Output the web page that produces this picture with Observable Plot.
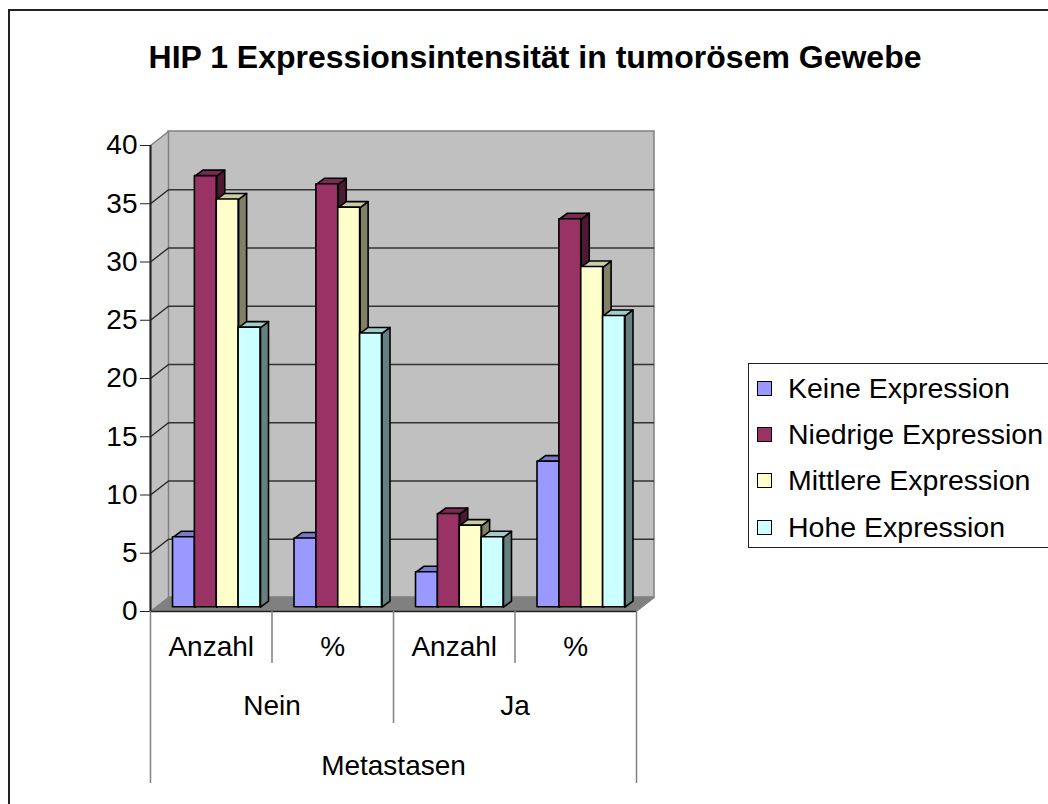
<!DOCTYPE html>
<html>
<head>
<meta charset="utf-8">
<script src="https://cdn.jsdelivr.net/npm/d3@7"></script>
<script src="https://cdn.jsdelivr.net/npm/@observablehq/plot@0.6"></script>
<style>
  html, body { margin: 0; padding: 0; background: #fff; }
  #wrap { position: relative; width: 1048px; height: 804px; overflow: hidden; font-family: "Liberation Sans", Arial, sans-serif; }
  #border { position: absolute; left: 8px; top: 9px; width: 1100px; height: 900px; border: 2px solid #222; box-sizing: border-box; }
  #title { position: absolute; left: 0; top: 39px; width: 1070px; text-align: center; font-weight: bold; font-size: 32px; line-height: 36px; color: #000; }
  #legend { position: absolute; left: 748px; top: 363px; width: 330px; height: 185px; border: 1px solid #222; background: #fff; box-sizing: border-box; }
  .item { position: absolute; left: 0; height: 32px; font-size: 28.5px; line-height: 32px; white-space: nowrap; color: #000; }
  .sw { position: absolute; left: 8px; top: 9px; width: 13px; height: 13px; border: 1.5px solid #000; }
  .lab { position: absolute; left: 39px; top: 0; }
  #chart { position: absolute; left: 0; top: 0; }
</style>
</head>
<body>
<div id="wrap">
  <div id="border"></div>
  <div id="chart"></div>
  <div id="title"></div>
  <div id="legend"></div>
</div>
<script>
// ---- Data ----
const title = "HIP 1 Expressionsintensität in tumorösem Gewebe";
const series = ["Keine Expression", "Niedrige Expression", "Mittlere Expression", "Hohe Expression"];
const subCategories = ["Anzahl", "%", "Anzahl", "%"];
const groupLabels = ["Nein", "Ja"];
const outerLabel = "Metastasen";
const keine    = [6, 5.9, 3, 12.5];
const niedrige = [37, 36.3, 8, 33.3];
const mittlere = [35, 34.3, 7, 29.2];
const hohe     = [24, 23.5, 6, 25.0];
const yTicks = [0, 5, 10, 15, 20, 25, 30, 35, 40];

// ---- Styles ----
const frontColors = ["#9999ff", "#993366", "#ffffcc", "#ccffff"];
const topColors   = ["#7a7acc", "#7a2952", "#cccca3", "#a3cccc"];
const sideColors  = ["#5c5c99", "#4d1a33", "#808066", "#668080"];

const values = [keine, niedrige, mittlere, hohe];

// layout (pixels -> data units)
const W = 1048, H = 804;
const mL = 150, mR = 412, mT = 145, mB = 193;
const xDomain = [0, 4], yDomain = [0, 40];
const PX = (xDomain[1] - xDomain[0]) / (W - mL - mR);
const PY = (yDomain[1] - yDomain[0]) / (H - mT - mB);
const wallDX = 18 * PX, wallDY = 14 * PY;   // depth of walls
const barDX = 8 * PX, barDY = 6 * PY;        // depth of bars
const gap = 0.14, bw = 0.18;

// bars table
const bars = [];
subCategories.forEach((c, g) => {
  series.forEach((s, i) => {
    const x1 = g + gap + i * bw;
    bars.push({id: g + "-" + i, g, i, x1, x2: x1 + bw, v: values[i][g],
      front: frontColors[i], top: topColors[i], side: sideColors[i]});
  });
});
const sidePts = bars.flatMap(b => [
  {id: b.id, c: b.side, x: b.x2, y: 0},
  {id: b.id, c: b.side, x: b.x2, y: b.v},
  {id: b.id, c: b.side, x: b.x2 + barDX, y: b.v + barDY},
  {id: b.id, c: b.side, x: b.x2 + barDX, y: barDY},
  {id: b.id, c: b.side, x: b.x2, y: 0}
]);
const topPts = bars.flatMap(b => [
  {id: b.id, c: b.top, x: b.x1, y: b.v},
  {id: b.id, c: b.top, x: b.x2, y: b.v},
  {id: b.id, c: b.top, x: b.x2 + barDX, y: b.v + barDY},
  {id: b.id, c: b.top, x: b.x1 + barDX, y: b.v + barDY},
  {id: b.id, c: b.top, x: b.x1, y: b.v}
]);

const leftWall = [
  {x: 0, y: 0}, {x: 0, y: 40}, {x: wallDX, y: 40 + wallDY}, {x: wallDX, y: wallDY}, {x: 0, y: 0}
];
const floor = [
  {x: 0, y: 0}, {x: 4, y: 0}, {x: 4 + wallDX, y: wallDY}, {x: wallDX, y: wallDY}, {x: 0, y: 0}
];
const gridVals = yTicks.filter(t => t > 0 && t < 40);
const sepLen = [172, 52, 112, 52, 172]; // px lengths of separators below axis

const bdx = 5.5, bdy = -4.3; // bar plane offset

const plot = Plot.plot({
  width: W, height: H,
  marginLeft: mL, marginRight: mR, marginTop: mT, marginBottom: mB,
  x: {domain: xDomain, axis: null},
  y: {domain: yDomain, axis: null},
  color: {type: "identity"},
  style: {fontFamily: "'Liberation Sans', Arial, sans-serif", fontSize: "28px", background: "transparent", overflow: "visible"},
  marks: [
    // back wall
    Plot.rect([0], {x1: 0, x2: 4, y1: 0, y2: 40, dx: 18, dy: -14, fill: "#c0c0c0", stroke: "#808080", strokeWidth: 1.5}),
    // left wall
    Plot.line(leftWall, {x: "x", y: "y", fill: "#c0c0c0", stroke: "#808080", strokeWidth: 1.5}),
    // floor
    Plot.line(floor, {x: "x", y: "y", fill: "#808080", stroke: "#808080", strokeWidth: 1}),
    // back gridlines
    Plot.ruleY(gridVals, {x1: 0, x2: 4, dx: 18, dy: -14, stroke: "#333", strokeWidth: 1.5}),
    // left wall diagonals
    Plot.link(gridVals, {x1: 0, y1: d => d, x2: wallDX, y2: d => d + wallDY, stroke: "#222", strokeWidth: 1.3}),
    // bars: sides, tops, fronts
    Plot.line(sidePts, {x: "x", y: "y", z: "id", fill: "c", stroke: "#000", strokeWidth: 1.6, strokeLinejoin: "round", dx: bdx, dy: bdy}),
    Plot.line(topPts, {x: "x", y: "y", z: "id", fill: "c", stroke: "#000", strokeWidth: 1.6, strokeLinejoin: "round", dx: bdx, dy: bdy}),
    Plot.rect(bars, {x1: "x1", x2: "x2", y1: 0, y2: "v", fill: "front", stroke: "#000", strokeWidth: 1.6, strokeLinejoin: "round", dx: bdx, dy: bdy}),
    // axes lines
    Plot.ruleX([0], {y1: 0, y2: 40, stroke: "#222", strokeWidth: 2}),
    Plot.ruleY([0], {x1: 0, x2: 4, stroke: "#222", strokeWidth: 1.5}),
    Plot.axisY({ticks: yTicks, tickSize: 10, tickPadding: 3, fontSize: 28, label: null, stroke: "#222"}),
    // category separators
    Plot.ruleX([0, 1, 2, 3, 4], {y1: 0, y2: (d, i) => -sepLen[i] * PY, stroke: "#808080", strokeWidth: 1.5}),
    // category labels
    Plot.text(subCategories, {x: (d, i) => i + 0.5, y: 0, dy: 36, text: d => d, fontSize: 28, fill: "#000"}),
    Plot.text(groupLabels, {x: (d, i) => i * 2 + 1, y: 0, dy: 95, text: d => d, fontSize: 28, fill: "#000"}),
    Plot.text([outerLabel], {x: 2, y: 0, dy: 155, text: d => d, fontSize: 28, fill: "#000"})
  ]
});
document.getElementById("chart").appendChild(plot);
document.getElementById("title").textContent = title;

const legend = document.getElementById("legend");
const rowTops = [8, 54, 100, 147];
series.forEach((s, i) => {
  const it = document.createElement("div");
  it.className = "item";
  it.style.top = rowTops[i] + "px";
  const sw = document.createElement("div");
  sw.className = "sw";
  sw.style.background = frontColors[i];
  const lab = document.createElement("div");
  lab.className = "lab";
  lab.textContent = s;
  it.appendChild(sw); it.appendChild(lab);
  legend.appendChild(it);
});
</script>
</body>
</html>
